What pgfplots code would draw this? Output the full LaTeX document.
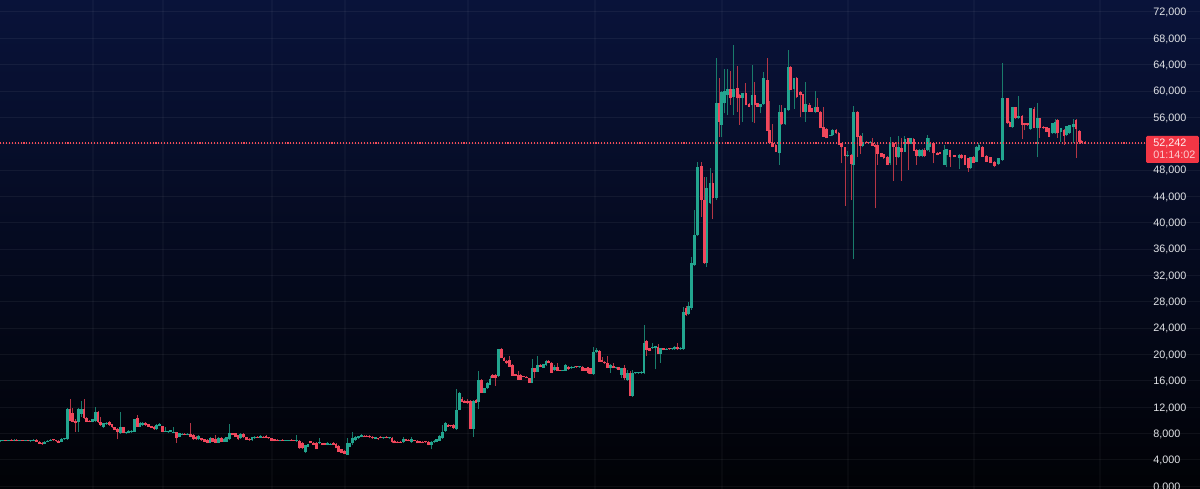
\documentclass[border=0pt]{standalone}
\usepackage{pgfplots}
\usepackage{pgfplotstable}
\usepackage{fontspec}
\setmainfont{Liberation Sans}
\pgfplotsset{compat=1.18}
\definecolor{upc}{HTML}{22A58F}
\definecolor{dnc}{HTML}{F0475C}
\definecolor{lbl}{HTML}{E2E4E8}
\definecolor{tag}{HTML}{F23645}
\pgfplotstableread{
i o h l c
0 6.85 7.0 6.75 6.9
1 6.9 7.0 6.8 6.95
2 6.95 7.05 6.8 6.85
3 6.85 7.0 6.8 7.0
4 7.0 7.1 6.85 6.9
5 6.9 7.1 6.8 7.05
6 7.05 7.1 6.8 6.85
7 6.85 6.95 6.8 6.95
8 6.95 7.0 6.85 6.88
9 6.88 6.95 6.8 6.92
10 6.92 7.0 6.8 6.85
11 6.85 6.9 6.75 6.9
12 6.9 7.2 6.8 7.0
13 7.0 7.1 6.7 6.75
14 6.76 6.85 6.4 6.45
15 6.6 6.7 6.3 6.4
16 6.45 6.8 6.4 6.75
17 6.7 6.95 6.65 6.9
18 6.85 7.1 6.8 7.0
19 7.0 7.1 6.85 6.95
20 6.95 7.05 6.75 6.9
21 6.9 7.0 6.55 6.6
22 6.7 7.25 6.65 7.2
23 7.11 7.35 7.05 7.3
24 7.11 11.9 7.0 11.77
25 11.77 13.2 9.9 9.95
26 11.06 11.8 9.7 9.8
27 9.95 10.2 8.3 9.54
28 9.8 11.9 8.28 11.77
29 11.0 13.0 10.5 11.77
30 11.77 13.2 10.2 10.3
31 10.3 10.5 9.7 9.8
32 9.95 10.1 9.7 9.8
33 9.8 10.2 9.7 10.15
34 9.95 12.0 9.7 11.3
35 11.3 11.4 9.6 9.8
36 9.8 10.45 9.2 9.29
37 9.04 9.6 8.9 9.54
38 9.4 9.8 9.3 9.65
39 9.8 9.9 9.2 9.29
40 9.44 9.5 8.9 8.94
41 8.94 9.0 8.5 8.53
42 8.68 8.8 7.1 8.28
43 8.02 11.3 7.9 9.04
44 8.94 9.0 8.0 8.13
45 8.02 8.3 7.9 8.28
46 8.13 8.5 8.0 8.43
47 8.18 8.5 8.1 8.43
48 8.28 10.2 8.2 10.15
49 10.3 10.8 9.0 9.04
50 9.04 9.7 9.0 9.65
51 9.29 9.7 9.2 9.65
52 9.65 9.7 9.2 9.29
53 9.44 9.5 9.0 9.04
54 9.13 9.2 8.8 8.83
55 9.04 9.1 8.6 8.63
56 8.63 9.4 8.55 9.29
57 9.13 9.65 9.1 9.39
58 9.13 9.2 8.2 8.28
59 8.22 9.0 8.2 8.42
60 8.17 8.4 8.1 8.38
61 8.28 8.6 8.2 8.53
62 8.13 9.04 8.1 8.28
63 8.28 8.3 6.6 7.27
64 7.52 8.1 7.4 8.02
65 7.77 8.0 7.7 7.92
66 7.92 8.0 7.7 7.77
67 7.77 8.0 7.7 7.92
68 7.92 9.64 7.4 7.52
69 7.77 7.9 7.0 7.1
70 7.52 7.6 7.0 7.1
71 7.1 7.7 7.0 7.62
72 7.27 7.35 6.9 7.0
73 7.11 7.2 6.7 6.76
74 7.0 7.1 6.5 6.6
75 6.6 7.5 6.5 7.27
76 7.27 7.3 6.7 6.76
77 7.11 7.77 6.5 6.6
78 6.6 7.5 6.5 7.27
79 7.27 7.4 6.7 6.76
80 6.76 7.3 6.7 7.11
81 6.76 7.4 6.7 7.42
82 7.11 9.44 7.0 8.02
83 8.02 8.1 7.7 7.77
84 8.02 8.1 7.5 7.52
85 7.77 7.8 7.0 7.11
86 7.27 8.1 7.2 7.9
87 7.9 8.1 7.3 7.4
88 7.4 7.5 7.0 7.0
89 7.2 7.3 6.9 7.0
90 7.0 7.4 6.9 7.4
91 7.35 7.6 7.2 7.5
92 7.5 7.6 7.3 7.35
93 7.35 7.7 7.3 7.55
94 7.5 7.65 7.3 7.35
95 7.6 7.8 7.25 7.3
96 7.3 7.4 7.2 7.25
97 7.27 7.3 6.85 6.9
98 7.1 7.2 6.8 6.85
99 7.0 7.1 6.9 6.9
100 6.9 7.05 6.85 7.0
101 7.0 7.1 6.9 6.9
102 6.9 7.0 6.85 6.98
103 6.92 7.05 6.85 7.0
104 7.0 7.1 6.9 6.92
105 6.98 7.05 6.85 6.9
106 6.9 7.8 6.7 7.0
107 6.86 6.95 5.7 5.75
108 6.6 6.7 5.6 5.75
109 5.24 6.3 5.09 6.25
110 6.0 6.4 5.9 6.4
111 6.85 6.9 6.5 6.5
112 6.6 6.7 6.2 6.3
113 6.6 6.7 5.6 5.6
114 6.5 7.3 6.4 6.76
115 6.5 6.6 6.2 6.25
116 6.5 6.6 6.25 6.25
117 6.3 6.75 6.2 6.6
118 6.3 6.6 6.2 6.45
119 6.6 6.7 6.2 6.25
120 6.4 6.5 5.75 5.75
121 6.1 6.2 5.2 5.24
122 5.6 5.7 5.0 5.1
123 5.4 5.5 4.9 4.9
124 4.73 7.27 4.7 6.5
125 6.0 6.6 5.9 6.6
126 6.5 8.28 6.3 7.27
127 7.0 7.6 6.9 7.5
128 7.3 7.65 7.2 7.62
129 7.5 7.9 7.4 7.77
130 7.67 7.8 7.4 7.42
131 7.67 7.75 7.4 7.42
132 7.6 7.7 7.3 7.42
133 7.5 7.6 7.2 7.27
134 7.2 7.5 7.1 7.4
135 7.3 7.35 7.0 7.1
136 7.5 7.65 7.25 7.27
137 7.27 7.5 7.2 7.45
138 7.5 7.6 7.25 7.27
139 7.27 7.45 7.2 7.4
140 7.37 7.45 6.6 6.65
141 6.86 6.95 6.5 6.5
142 6.76 6.85 6.5 6.6
143 6.76 6.8 6.6 6.6
144 6.66 7.5 6.6 7.1
145 7.1 7.2 6.85 6.86
146 7.0 7.1 6.8 6.86
147 6.66 7.4 6.6 7.1
148 6.95 7.05 6.85 6.86
149 6.86 6.95 6.5 6.5
150 6.86 6.9 6.5 6.5
151 6.76 6.8 6.5 6.5
152 6.76 6.8 6.6 6.65
153 6.76 6.85 6.2 6.25
154 6.25 6.8 5.6 6.76
155 6.65 7.0 6.6 6.86
156 6.7 7.1 6.65 7.1
157 6.9 7.7 6.8 7.6
158 7.27 9.3 7.2 8.28
159 8.43 9.7 8.3 9.65
160 9.3 9.4 9.0 9.05
161 9.2 9.3 9.0 9.1
162 9.29 9.4 8.7 8.8
163 8.68 14.7 8.5 11.57
164 11.57 14.35 11.5 14.1
165 13.2 13.5 12.8 12.85
166 12.9 13.1 12.7 12.7
167 12.98 13.2 12.5 12.6
168 12.98 13.1 8.7 8.74
169 8.74 13.1 7.5 12.98
170 13.09 13.2 12.6 12.69
171 12.84 17.54 11.67 16.12
172 16.12 16.3 14.2 14.2
173 14.2 14.9 14.1 14.86
174 14.86 15.8 14.8 15.72
175 15.37 16.8 15.3 16.22
176 16.88 17.0 16.4 16.38
177 16.88 17.0 15.2 16.38
178 16.73 20.9 16.6 20.78
179 20.78 20.95 19.4 19.41
180 19.51 19.6 19.0 19.06
181 19.0 19.1 18.6 18.65
182 19.16 19.7 18.1 18.15
183 18.4 18.5 16.78 16.78
184 17.03 17.1 16.7 16.73
185 16.88 17.5 16.1 16.12
186 16.88 17.0 16.1 16.12
187 16.73 16.8 16.6 16.63
188 16.63 16.7 16.35 16.38
189 16.38 16.4 15.7 15.72
190 15.72 19.3 15.6 17.9
191 17.9 18.0 16.4 17.4
192 17.4 19.77 17.3 18.4
193 18.4 18.5 18.1 18.15
194 18.0 18.6 17.95 18.5
195 18.4 19.1 18.3 19.06
196 19.0 19.1 18.65 18.65
197 18.75 18.9 17.2 17.24
198 17.64 18.4 17.5 18.05
199 18.05 18.75 17.5 17.54
200 17.6 17.7 17.5 17.54
201 17.54 17.7 17.45 17.64
202 17.54 18.5 17.5 18.4
203 18.15 18.3 17.7 17.74
204 17.9 18.2 17.8 18.15
205 18.0 18.3 17.95 18.15
206 18.15 18.3 18.0 18.05
207 18.05 18.2 18.0 18.15
208 18.15 18.3 17.5 17.54
209 17.9 18.0 17.5 17.55
210 18.05 18.1 17.1 17.14
211 17.9 18.0 17.0 17.04
212 17.04 21.1 16.95 20.42
213 20.3 21.0 20.2 20.6
214 20.58 20.7 18.9 18.9
215 19.2 19.67 18.8 18.85
216 18.9 19.0 18.6 18.65
217 18.75 19.77 17.9 17.9
218 17.9 18.6 17.2 18.4
219 18.25 18.65 17.9 17.9
220 17.9 18.15 17.85 18.05
221 18.05 18.1 17.6 17.64
222 16.88 17.9 16.37 17.9
223 17.9 18.4 16.12 16.38
224 16.12 17.64 16.0 17.14
225 17.14 17.5 13.7 13.7
226 13.7 17.64 13.6 17.14
227 17.14 17.4 17.0 17.24
228 17.2 17.4 17.1 17.3
229 17.25 17.5 17.1 17.35
230 17.24 24.47 17.1 21.8
231 22.1 22.2 19.76 20.68
232 20.93 21.0 20.5 20.58
233 21.0 21.7 20.9 21.08
234 20.93 21.3 17.74 21.3
235 21.2 21.54 20.0 20.02
236 20.02 21.0 18.75 20.93
237 20.93 21.0 20.6 20.68
238 20.75 20.95 20.7 20.9
239 20.9 21.0 20.7 20.78
240 20.8 21.0 20.7 20.95
241 20.78 21.3 20.7 21.18
242 21.08 21.8 20.75 20.78
243 20.78 21.1 20.7 21.0
244 20.78 27.2 20.7 26.5
245 27.0 27.4 25.8 26.0
246 26.2 28.0 26.0 27.4
247 27.0 34.84 26.8 33.83
248 33.6 41.9 33.5 38.13
249 38.13 49.16 38.0 48.5
250.6 48.6 49.2 40.9 43.44
251.6 43.44 47.0 33.8 33.83
252.4 33.83 47.0 33.3 45.2
253.6 43.0 48.25 42.9 46.07
254.6 46.07 47.5 40.5 43.7
255.8 43.7 65.05 43.5 58.12
256.8 58.12 61.9 53.06 55.33
257.8 54.83 60.0 52.96 59.89
258.7 58.12 63.28 56.6 60.0
259.8 59.38 63.28 56.35 60.24
261 60.24 63.08 57.9 58.88
262 59.13 67.02 56.35 60.29
263.3 60.4 63.84 56.85 58.88
264.2 59.38 59.5 54.83 58.88
265.3 58.88 59.5 55.33 59.64
266.4 59.64 61.26 57.8 57.86
267.5 58.0 58.1 57.5 57.6
268.6 57.86 63.94 55.33 59.38
269.6 59.38 61.4 55.08 57.86
270.6 58.1 58.2 57.5 57.6
271.6 57.6 58.0 56.6 58.02
272.7 58.02 62.9 57.9 61.9
274 61.65 65.05 53.9 53.92
274.9 54.07 58.4 52.05 52.05
275.9 52.15 55.0 51.44 51.54
277.1 51.8 51.9 50.75 50.78
278.3 50.53 57.86 48.76 56.85
279.2 56.85 57.86 54.9 54.93
280.4 54.93 57.4 54.8 57.36
281.5 57.1 66.21 57.0 63.68
282.4 63.68 63.8 60.1 60.14
283.6 60.24 61.9 57.26 61.9
284.6 62.0 62.1 58.9 59.13
285.9 59.89 60.0 56.0 59.38
286.8 59.5 59.6 56.85 56.85
287.8 56.85 61.4 55.33 58.02
289 57.86 58.1 56.8 56.85
289.9 57.36 57.4 56.8 56.85
291.1 56.85 60.0 56.7 57.5
292 57.5 58.88 56.8 56.85
293 56.85 57.0 54.3 54.32
294.2 54.5 57.5 53.0 53.06
295.3 54.17 54.3 52.8 52.8
296.5 53.16 53.35 53.1 53.31
297.4 53.31 54.2 53.2 54.07
298.6 54.07 54.2 53.5 53.56
299.6 53.56 53.7 51.8 51.8
300.5 52.05 52.1 49.0 51.54
301.8 51.44 51.5 42.53 50.12
302.8 50.12 50.9 49.9 50.3
304 50.28 50.4 43.44 48.86
304.9 48.76 57.7 34.44 56.85
306.2 56.85 56.9 50.0 53.06
307.2 53.16 53.3 50.5 51.64
308 51.64 53.56 51.5 52.3
309.6 52.3 52.45 52.1 52.15
310.8 52.15 52.4 52.05 52.3
311.6 52.15 52.8 51.6 51.64
312.5 51.8 51.9 42.18 51.54
313.4 51.8 51.9 48.76 50.43
314.7 50.53 50.6 50.0 50.02
315.7 50.43 50.5 49.7 49.77
317 50.02 50.1 48.7 48.76
317.9 49.0 53.06 48.8 52.05
319.1 52.15 52.3 46.38 51.54
320 51.54 52.3 48.76 50.02
320.9 49.92 53.16 49.8 51.54
322 51.3 52.8 46.4 50.78
323.2 50.78 53.16 50.7 52.65
324.3 52.8 52.9 48.0 51.95
325.1 51.95 52.9 51.9 52.8
326.4 52.65 52.8 50.9 50.95
327.4 51.1 51.2 48.8 50.13
328.3 50.13 51.2 50.0 51.1
329.3 50.13 51.2 50.0 51.1
330.3 51.1 51.3 50.0 50.13
331.3 51.04 53.3 50.9 52.8
332.1 51.5 52.9 50.7 52.05
333.3 52.15 52.3 49.0 50.53
334.7 50.63 50.7 50.2 50.28
335.7 50.73 50.8 50.4 50.43
337.2 48.76 51.8 48.7 51.04
338.1 50.28 51.2 48.4 51.14
339.3 51.04 51.1 48.5 49.93
341 50.23 50.3 49.9 49.93
342.6 49.77 50.4 48.1 50.33
343.5 50.33 50.4 49.7 49.77
344.6 50.23 50.3 48.7 48.76
345.8 49.77 49.8 47.75 48.26
346.6 48.26 50.0 48.1 49.93
347.8 50.03 50.1 49.0 49.12
348.8 49.27 51.6 49.2 51.55
349.6 51.04 52.1 50.9 51.8
350.9 51.55 51.7 50.0 50.03
352.4 50.13 50.2 49.2 49.27
353.8 49.93 50.0 49.1 49.12
355.3 49.27 49.4 48.4 48.61
356.5 48.9 49.8 48.8 49.77
358 49.5 64.2 49.4 58.88
359.7 58.88 58.9 55.0 55.09
360.7 55.34 55.4 54.5 54.58
361.5 54.48 57.6 54.4 57.52
362.7 57.52 57.6 55.8 55.85
363.7 55.85 59.2 55.8 56.2
365 56.25 56.3 52.66 54.8
366 55.09 55.2 54.0 54.84
366.9 55.09 55.2 54.7 54.84
368.1 54.18 57.4 54.1 57.37
369.3 57.2 57.5 54.3 54.33
370.4 54.33 58.2 49.9 55.85
371.4 55.85 55.9 52.9 54.33
372.6 54.58 54.7 54.2 54.33
373.8 54.48 54.6 53.7 53.8
374.6 54.33 54.4 53.0 53.06
375.8 53.57 55.2 53.5 55.2
376.8 53.57 55.7 53.5 55.34
377.8 55.6 55.7 52.9 53.57
378.9 53.8 54.4 52.3 54.43
380 54.08 54.2 51.8 53.17
381 53.3 54.6 53.2 54.68
381.9 53.57 54.9 53.5 54.84
383.3 54.48 55.7 52.05 54.99
384.3 55.6 55.7 49.8 54.18
385.5 53.98 54.0 52.3 52.3
386.3 52.45 52.5 52.1 52.15
387.5 52.3 52.4 51.9 52.0
}\candles
\begin{document}
\begin{tikzpicture}
\useasboundingbox (0,0) rectangle (900pt,366.75pt);
\begin{axis}[
  at={(0,0)}, anchor=south west, scale only axis,
  width=900pt, height=366.75pt,
  xmin=0, xmax=428.571, ymin=-0.425, ymax=73.805,
  axis line style={draw=none},
  axis background/.style={shade, top color={rgb,255:red,9;green,19;blue,58}, middle color={rgb,255:red,4;green,9;blue,28}, bottom color={rgb,255:red,1;green,2;blue,6}},
  xtick={33.2,58.2,97.1,123.2,167.1,212.5,257.9,302.9,347.9,392.9},
  xticklabels={},
  ytick={0,4,8,12,16,20,24,28,32,36,40,44,48,52,56,60,64,68,72},
  yticklabels={{0,000},{4,000},{8,000},{12,000},{16,000},{20,000},{24,000},{28,000},{32,000},{36,000},{40,000},{44,000},{48,000},{},{56,000},{60,000},{64,000},{68,000},{72,000}},
  ytick pos=right, yticklabel pos=right,
  major tick length=0pt,
  yticklabel style={anchor=west, xshift=-35.25pt, yshift=-0.6pt, inner xsep=0pt, font=\fontsize{8.1pt}{9pt}\selectfont, text=lbl},
  ymajorgrids, xmajorgrids,
  y grid style={white, opacity=0.055, line width=0.6pt},
  x grid style={white, opacity=0.03, line width=1.3pt},
  clip=false,
]
% wicks
\addplot[draw=none, mark=none, forget plot, error bars/.cd, y dir=plus, y explicit, error mark=none,
  error bar style={line width=0.75pt, color=upc!75!black}]
  table[x=i, y expr={\thisrow{c}>=\thisrow{o} ? \thisrow{l} : nan}, y error expr={\thisrow{h}-\thisrow{l}}] {\candles};
\addplot[draw=none, mark=none, forget plot, error bars/.cd, y dir=plus, y explicit, error mark=none,
  error bar style={line width=0.75pt, color=dnc!75!black}]
  table[x=i, y expr={\thisrow{c}<\thisrow{o} ? \thisrow{l} : nan}, y error expr={\thisrow{h}-\thisrow{l}}] {\candles};
% bodies
\addplot[draw=none, mark=none, forget plot, error bars/.cd, y dir=plus, y explicit, error mark=none,
  error bar style={line width=2.05pt, color=upc}]
  table[x=i, y expr={\thisrow{c}>=\thisrow{o} ? \thisrow{o} : nan}, y error expr={max(\thisrow{c}-\thisrow{o},0.15)}] {\candles};
\addplot[draw=none, mark=none, forget plot, error bars/.cd, y dir=plus, y explicit, error mark=none,
  error bar style={line width=2.05pt, color=dnc}]
  table[x=i, y expr={\thisrow{c}<\thisrow{o} ? \thisrow{c} : nan}, y error expr={max(\thisrow{o}-\thisrow{c},0.15)}] {\candles};
% last price line
\addplot[forget plot, color=tag!90!white, line width=0.8pt, dash pattern=on 0.8pt off 1.4pt] coordinates {(0,52.1) (409.3,52.1)};
\fill[tag, rounded corners=1pt] (axis cs:409.3,49.07) rectangle (axis cs:428.2,53.16);
\node[anchor=west, inner xsep=0pt, inner ysep=0pt, text=white!92!tag, font=\fontsize{8.1pt}{9pt}\selectfont] at (axis cs:411.8,52.1) {52,242};
\node[anchor=west, inner xsep=0pt, inner ysep=0pt, text=white!75!tag, font=\fontsize{8.1pt}{9pt}\selectfont] at (axis cs:411.8,50.3) {01:14:02};
\end{axis}
\end{tikzpicture}
\end{document}
